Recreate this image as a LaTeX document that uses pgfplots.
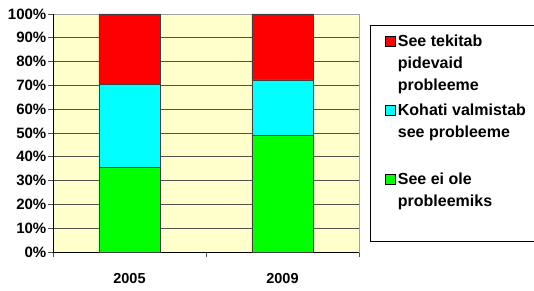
\documentclass[border=0pt]{standalone}
\usepackage{fontspec}
\setmainfont{Liberation Sans}
\usepackage{pgfplots}
\pgfplotsset{compat=1.18}
\definecolor{bgyellow}{HTML}{FFFFCC}
\definecolor{gridgray}{HTML}{505050}
\definecolor{boxgray}{HTML}{A0A0A0}
\definecolor{barred}{HTML}{FF0000}
\definecolor{barcyan}{HTML}{00FFFF}
\definecolor{bargreen}{HTML}{00FF00}
\newcommand\lgtext[1]{\begin{tabular}[b]{@{}p{135bp}@{}}#1\end{tabular}}
\pgfplotsset{
  sqlegend/.style 2 args={legend image code/.code={%
    \path (-10bp,0bp) (0bp,0bp);
    \draw[##1, draw=black, line width=0.5bp] (0bp,#1) rectangle (10bp,#2);}},
}
\begin{document}
\begin{tikzpicture}[font=\bfseries\fontsize{14.5bp}{17bp}\selectfont]
\path[use as bounding box] (-53bp,-39bp) rectangle (481bp,252bp);
\begin{axis}[
  at={(0,0)}, anchor=south west,
  scale only axis, width=306bp, height=238bp,
  ybar stacked, bar width=0.4,
  xmin=-0.5, xmax=1.5, ymin=0, ymax=100,
  axis background/.style={fill=bgyellow},
  axis line style={draw=boxgray, line width=0.8bp},
  ymajorgrids, major grid style={draw=gridgray, line width=0.7bp},
  ytick={0,10,...,100},
  yticklabel={\pgfmathprintnumber{\tick}\%},
  /pgf/number format/assume math mode=true,
  tick align=outside, xtick pos=lower, ytick pos=left,
  major tick length=4.5bp,
  tick style={draw=gridgray, line width=0.8bp},
  xtick={-0.5,0.5,1.5}, xticklabels={},
  extra x ticks={0,1}, extra x tick labels={2005,2009},
  extra x tick style={major tick length=0pt, xticklabel style={inner sep=0pt, yshift=-21bp}},
  yticklabel style={inner sep=0pt, xshift=-2bp, font=\bfseries\fontsize{15bp}{17bp}\selectfont},
  legend style={at={(axis description cs:1.036,0.954)}, anchor=north west,
    draw=black, line width=0.8bp, inner xsep=5bp, inner ysep=4bp,
    font=\bfseries\fontsize{16bp}{22bp}\selectfont,
    cells={anchor=base west}, row sep=4bp,
    /tikz/every even column/.append style={column sep=4bp}},
  reverse legend,
  every axis plot/.append style={draw=black!75, line width=0.5bp},
]
\addplot[fill=bargreen, sqlegend={49.5bp}{59.5bp}] coordinates {(0,35.5) (1,49)};
\addplot[fill=barcyan, sqlegend={44.5bp}{54.5bp}] coordinates {(0,35) (1,23.3)};
\addplot[fill=barred, sqlegend={44.5bp}{54.5bp}] coordinates {(0,29.5) (1,27.7)};
\addlegendentry{\lgtext{See ei ole\\probleemiks\\\mbox{}\\[-17bp]\mbox{}}}
\addlegendentry{\lgtext{Kohati valmistab\\see probleeme\\\mbox{}}}
\addlegendentry{\lgtext{See tekitab\\pidevaid\\probleeme}}
\draw[black, line width=0.8bp] (rel axis cs:0,1) -- (rel axis cs:0,0) -- (rel axis cs:1,0);
\end{axis}
\end{tikzpicture}
\end{document}
